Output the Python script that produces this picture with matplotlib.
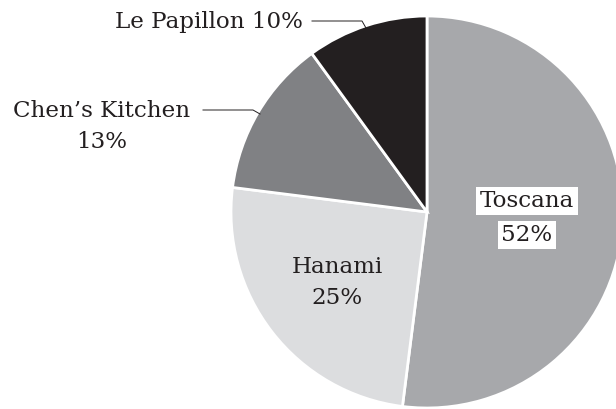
import matplotlib
matplotlib.use("Agg")
import matplotlib.pyplot as plt

labels = ["Toscana", "Hanami", "Chen’s Kitchen", "Le Papillon"]
values = [52, 25, 13, 10]
colors = ["#a7a8ab", "#dcdddf", "#808184", "#231f20"]

W, H = 616, 409
fig = plt.figure(figsize=(W / 100, H / 100), dpi=100)
ax = fig.add_axes([0, 0, 1, 1])

cx, cy, r = 427, H - 212, 196
wedges, _ = ax.pie(values, colors=colors, startangle=90, counterclock=False,
                   center=(cx, cy), radius=r, frame=True,
                   wedgeprops=dict(edgecolor="white", linewidth=2))
ax.set_xlim(0, W)
ax.set_ylim(0, H)
ax.set_aspect("equal")
ax.axis("off")

fam = "DejaVu Serif"
fs = 16.6
tc = "#231f20"

# Toscana label with white boxes per line
ax.text(527, H - 201, labels[0], ha="center", va="center", fontsize=fs, family=fam, color=tc,
        bbox=dict(facecolor="white", edgecolor="none", pad=2.5))
ax.text(527, H - 235, f"{values[0]}%", ha="center", va="center", fontsize=fs, family=fam, color=tc,
        bbox=dict(facecolor="white", edgecolor="none", pad=2.5))

# Hanami label
ax.text(337, H - 267, labels[1], ha="center", va="center", fontsize=fs, family=fam, color=tc)
ax.text(337, H - 298, f"{values[1]}%", ha="center", va="center", fontsize=fs, family=fam, color=tc)

# Chen's Kitchen label with leader
ax.text(102, H - 111, labels[2], ha="center", va="center", fontsize=fs, family=fam, color=tc)
ax.text(102, H - 142, f"{values[2]}%", ha="center", va="center", fontsize=fs, family=fam, color=tc)
ax.plot([203, 253, 260], [H - 110, H - 110, H - 114], color=tc, lw=0.7)

# Le Papillon label with leader
ax.text(303, H - 22, f"{labels[3]} {values[3]}%", ha="right", va="center", fontsize=fs, family=fam, color=tc)
ax.plot([312, 362, 366], [H - 21, H - 21, H - 28], color=tc, lw=0.7)

fig.savefig("out.png", dpi=100)
